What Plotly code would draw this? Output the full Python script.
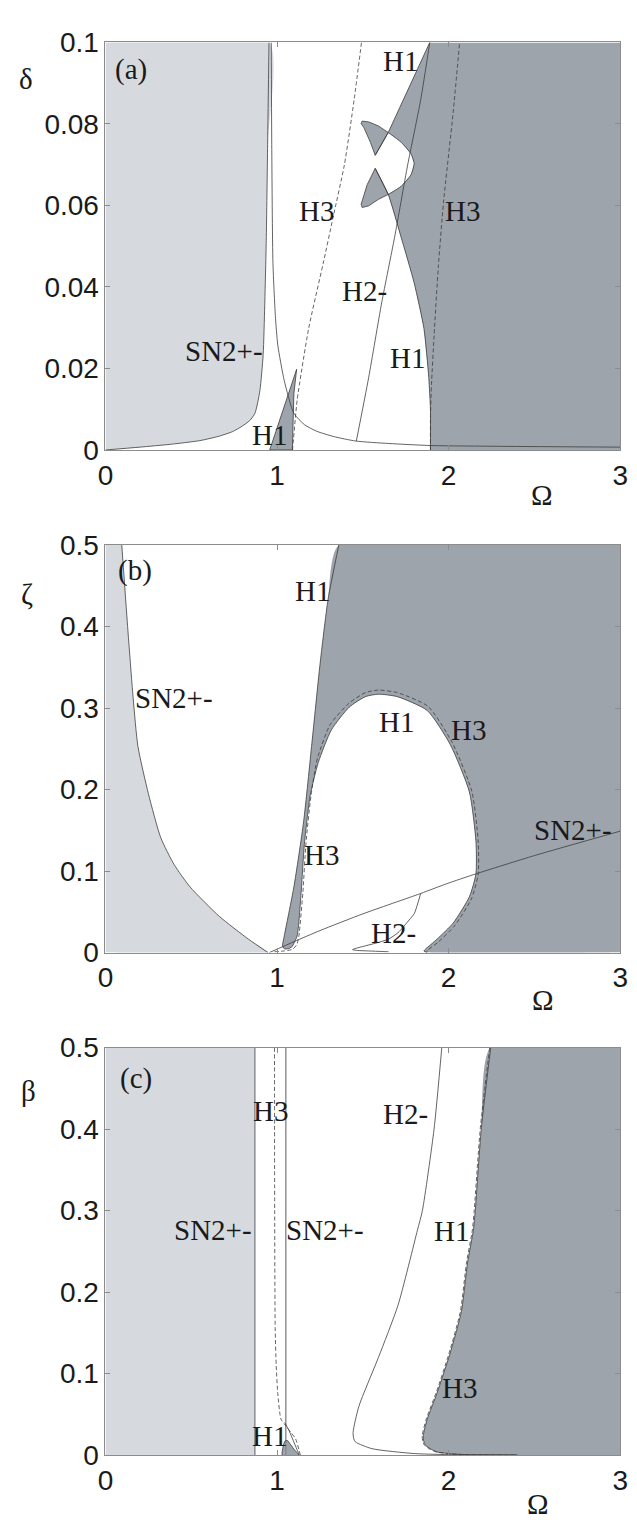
import plotly.graph_objects as go

# ---------------- Panel (a): Omega vs delta ----------------
a_sn_left_om = [0, 0.2, 0.38, 0.55, 0.663, 0.74, 0.795, 0.84, 0.871, 0.9, 0.919, 0.928, 0.937, 0.945, 0.953]
a_sn_left_de = [0, 0.0007, 0.0014, 0.0023, 0.0034, 0.0045, 0.0058, 0.0072, 0.009, 0.0146, 0.0234, 0.0354, 0.0514, 0.075, 0.1]
a_sn_right_om = [0.966, 0.969, 0.976, 0.99, 1.004, 1.042, 1.098, 1.16, 1.231, 1.33, 1.458, 1.65, 1.894, 2.3, 3.0]
a_sn_right_de = [0.1, 0.075, 0.0458, 0.033, 0.0258, 0.017, 0.009, 0.0062, 0.0046, 0.0033, 0.0022, 0.0016, 0.0011, 0.0009, 0.0007]
a_tri_om = [0.957, 1.114, 1.098, 1.089, 0.957]
a_tri_de = [0, 0.0198, 0.0138, 0, 0]
a_h3l_om = [1.09, 1.094, 1.117, 1.184, 1.269, 1.326, 1.392, 1.449, 1.492]
a_h3l_de = [0, 0.0018, 0.0122, 0.0298, 0.0458, 0.057, 0.0699, 0.0859, 0.1]
a_h2_om = [1.462, 1.534, 1.61, 1.685, 1.761, 1.837, 1.89]
a_h2_de = [0.0022, 0.0178, 0.0362, 0.0522, 0.0699, 0.0859, 0.1]
a_h1u_om = [1.89, 1.648, 1.572]
a_h1u_de = [0.1, 0.0779, 0.0723]
a_h1l_om = [1.572, 1.648, 1.723, 1.799, 1.856, 1.884, 1.894, 1.894]
a_h1l_de = [0.0691, 0.0627, 0.0522, 0.041, 0.0298, 0.0178, 0.0098, 0]
a_bowl_om = [1.648, 1.723, 1.78, 1.799, 1.78, 1.723, 1.648]
a_bowl_de = [0.0779, 0.0755, 0.0727, 0.0703, 0.0675, 0.0647, 0.0627]
a_lobeu_om = [1.648, 1.591, 1.534, 1.496, 1.49, 1.506, 1.544, 1.572, 1.648]
a_lobeu_de = [0.0779, 0.0795, 0.0805, 0.0807, 0.0801, 0.0791, 0.0755, 0.0723, 0.0779]
a_lobel_om = [1.572, 1.525, 1.496, 1.49, 1.496, 1.534, 1.591, 1.648, 1.572]
a_lobel_de = [0.0691, 0.0651, 0.0611, 0.0603, 0.0595, 0.0599, 0.0615, 0.0627, 0.0691]
a_h3r_om = [1.894, 1.894, 1.9, 1.915, 1.94, 1.97, 2.026, 2.064]
a_h3r_de = [0, 0.008, 0.016, 0.028, 0.045, 0.0607, 0.0827, 0.1]
a_ytick_vals = [0, 0.02, 0.04, 0.06, 0.08, 0.1]
a_ytick_text = ["0", "0.02", "0.04", "0.06", "0.08", "0.1"]
a_lab_text = ["(a)", "H1", "H3", "H3", "H2-", "H1", "SN2+-", "H1"]
a_lab_om = [0.148, 1.722, 1.227, 2.080, 1.511, 1.761, 0.693, 0.955]
a_lab_de = [0.0933, 0.0954, 0.0587, 0.0587, 0.0389, 0.0226, 0.0243, 0.0038]
a_axlab_text = ["δ", "Ω"]
a_axlab_om = [-0.466, 2.545]
a_axlab_de = [0.0911, -0.0111]

# ---------------- Panel (b): Omega vs zeta ----------------
b_sn_left_om = [0.095, 0.129, 0.161, 0.189, 0.25, 0.322, 0.4, 0.493, 0.663, 0.833, 0.947]
b_sn_left_ze = [0.5, 0.4, 0.313, 0.253, 0.195, 0.141, 0.108, 0.0805, 0.0445, 0.0165, 0]
b_sn_right_om = [0.955, 1.1, 1.25, 1.5, 1.837, 1.989, 2.159, 2.5, 3.0]
b_sn_right_ze = [0, 0.0135, 0.027, 0.0475, 0.0725, 0.0845, 0.0966, 0.119, 0.149]
b_h1o_om = [1.36, 1.297, 1.25, 1.203, 1.155, 1.098, 1.042, 1.032, 1.04, 1.051, 1.07, 1.089]
b_h1o_ze = [0.5, 0.433, 0.353, 0.257, 0.161, 0.0805, 0.0204, 0.0084, 0.005, 0.0044, 0.005, 0.0076]
b_loop_om = [1.089, 1.117, 1.14, 1.159, 1.193, 1.24, 1.316, 1.42, 1.515, 1.591, 1.70, 1.875, 2.01, 2.121, 2.159, 2.159, 2.121, 2.027, 1.932, 1.866, 1.856, 1.875]
b_loop_ze = [0.0076, 0.0204, 0.0725, 0.1326, 0.1927, 0.233, 0.273, 0.301, 0.314, 0.317, 0.314, 0.297, 0.255, 0.197, 0.1367, 0.0966, 0.0685, 0.0364, 0.0164, 0.0044, 0.002, 0]
b_h3_om = [0.985, 1.04, 1.09, 1.115, 1.127, 1.15, 1.168, 1.198, 1.235, 1.31, 1.42, 1.515, 1.591, 1.70, 1.88, 2.02, 2.135, 2.172, 2.172, 2.133, 2.035, 1.94, 1.878, 1.87]
b_h3_ze = [0.001, 0.002, 0.004, 0.01, 0.0204, 0.0725, 0.133, 0.193, 0.238, 0.28, 0.306, 0.319, 0.322, 0.319, 0.302, 0.258, 0.198, 0.137, 0.096, 0.066, 0.033, 0.013, 0.003, 0]
b_h2_om = [1.837, 1.80, 1.77, 1.705, 1.648, 1.572, 1.50, 1.459, 1.44, 1.47, 1.534, 1.65]
b_h2_ze = [0.0725, 0.048, 0.040, 0.0244, 0.0164, 0.0114, 0.0075, 0.0052, 0.0036, 0.0026, 0.002, 0.001]
b_ytick_vals = [0, 0.1, 0.2, 0.3, 0.4, 0.5]
b_ytick_text = ["0", "0.1", "0.2", "0.3", "0.4", "0.5"]
b_lab_text = ["(b)", "H1", "SN2+-", "H1", "H3", "H3", "SN2+-", "H2-"]
b_lab_om = [0.170, 1.205, 0.398, 1.699, 2.114, 1.261, 2.727, 1.676]
b_lab_ze = [0.469, 0.4435, 0.3125, 0.2825, 0.273, 0.120, 0.150, 0.024]
b_axlab_text = ["ζ", "Ω"]
b_axlab_om = [-0.455, 2.55]
b_axlab_ze = [0.440, -0.0577]

# ---------------- Panel (c): Omega vs beta ----------------
c_sn1_om = [0.871, 0.871]
c_sn1_be = [0, 0.5]
c_sn2_om = [1.051, 1.051]
c_sn2_be = [0, 0.5]
c_h3_om = [0.985, 0.986, 0.989, 0.995, 1.004, 1.023, 1.051, 1.08, 1.108, 1.136]
c_h3_be = [0.5, 0.3, 0.156, 0.11, 0.076, 0.044, 0.036, 0.028, 0.02, 0]
c_h1line_om = [1.045, 1.07, 1.1, 1.13]
c_h1line_be = [0.04, 0.03, 0.015, 0]
c_blob_om = [1.03, 1.035, 1.045, 1.06, 1.075, 1.1, 1.127, 1.03]
c_blob_be = [0, 0.01, 0.017, 0.018, 0.014, 0.007, 0, 0]
c_h2_om = [1.96, 1.915, 1.847, 1.818, 1.705, 1.591, 1.477, 1.443, 1.447, 1.458, 1.553, 1.799, 2.08, 2.4]
c_h2_be = [0.5, 0.4, 0.3, 0.276, 0.184, 0.12, 0.06, 0.028, 0.02, 0.016, 0.008, 0.002, 0.0005, 0.0003]
c_dark_om = [2.245, 2.19, 2.155, 2.144, 2.11, 2.074, 2.007, 1.932, 1.875, 1.852, 1.855, 1.866, 1.90, 1.932, 2.0, 2.083, 2.2, 2.4]
c_dark_be = [0.5, 0.4, 0.3, 0.276, 0.236, 0.176, 0.124, 0.076, 0.044, 0.024, 0.017, 0.012, 0.007, 0.004, 0.002, 0.0008, 0.0003, 0]
c_ytick_vals = [0, 0.1, 0.2, 0.3, 0.4, 0.5]
c_ytick_text = ["0", "0.1", "0.2", "0.3", "0.4", "0.5"]
c_lab_text = ["(c)", "H3", "H2-", "SN2+-", "SN2+-", "H1", "H3", "H1"]
c_lab_om = [0.176, 0.960, 1.75, 0.625, 1.278, 2.017, 2.063, 0.955]
c_lab_be = [0.4615, 0.422, 0.419, 0.276, 0.276, 0.275, 0.083, 0.024]
c_axlab_text = ["β", "Ω"]
c_axlab_om = [-0.449, 2.52]
c_axlab_be = [0.447, -0.060]

x_tick_vals = [0, 1, 2, 3]
x_tick_text = ["0", "1", "2", "3"]
X_RANGE = [0, 3]

LIGHT = "#d6dadf"
DARK = "#9ea4ac"
LINE = "#3c3c3c"
AXC = "#8c8c8c"
SERIF = "Liberation Serif, Times New Roman, serif"
SANS = "Liberation Sans, Arial, sans-serif"
FS_LAB = 29
FS_TICK = 28

fig = go.Figure()


def fill(xs, ys, color, ax, smooth=False):
    fig.add_trace(go.Scatter(x=xs, y=ys, mode="lines", fill="toself", fillcolor=color,
                             line=dict(width=0, color=color,
                                       shape="spline" if smooth else "linear",
                                       smoothing=0.6),
                             hoverinfo="skip", showlegend=False,
                             xaxis="x" + ax, yaxis="y" + ax))


def line(xs, ys, ax, dash="solid", width=0.8, color=LINE, smooth=False):
    fig.add_trace(go.Scatter(x=xs, y=ys, mode="lines",
                             line=dict(width=width, color=color, dash=dash,
                                       shape="spline" if smooth else "linear",
                                       smoothing=0.6),
                             hoverinfo="skip", showlegend=False,
                             xaxis="x" + ax, yaxis="y" + ax))

DASH = "4px,2.5px"

# ---- (a) ----
AY = a_ytick_vals[-1]
x0, x1 = X_RANGE
fill(a_sn_left_om + [x0, x0], a_sn_left_de + [AY, AY], LIGHT, "", smooth=True)
main_x = a_h1u_om[:2] + a_bowl_om[1:] + a_h1l_om[2:] + [x1, x1]
main_y = a_h1u_de[:2] + a_bowl_de[1:] + a_h1l_de[2:] + [0, AY]
fill(main_x, main_y, DARK, "")
fill(a_lobeu_om, a_lobeu_de, DARK, "")
fill(a_lobel_om, a_lobel_de, DARK, "")
fill(a_tri_om, a_tri_de, DARK, "")
line(a_sn_left_om, a_sn_left_de, "", smooth=True)
line(a_sn_right_om, a_sn_right_de, "", smooth=True)
line(a_tri_om, a_tri_de, "")
line(a_h1u_om, a_h1u_de, "")
line(a_h1l_om, a_h1l_de, "", smooth=True)
line(a_bowl_om, a_bowl_de, "", smooth=True)
line(a_lobeu_om, a_lobeu_de, "")
line(a_lobel_om, a_lobel_de, "")
line(a_h2_om, a_h2_de, "", smooth=True)
line(a_h3l_om, a_h3l_de, "", dash=DASH, smooth=True)
line(a_h3r_om, a_h3r_de, "", dash=DASH, smooth=True)

# ---- (b) ----
BY = b_ytick_vals[-1]
fill(b_sn_left_om + [x0, x0, x0, x0], b_sn_left_ze + [0, 0, BY, BY], LIGHT, "2", smooth=True)
fill(b_h1o_om + b_loop_om + [x1, x1, x1, x1, b_h1o_om[0]],
     b_h1o_ze + b_loop_ze + [0, 0, BY, BY, BY], DARK, "2", smooth=True)
line(b_sn_left_om, b_sn_left_ze, "2", smooth=True)
line(b_sn_right_om, b_sn_right_ze, "2", smooth=True)
line(b_h1o_om + b_loop_om, b_h1o_ze + b_loop_ze, "2", smooth=True)
line(b_h2_om, b_h2_ze, "2", smooth=True)
line(b_h3_om, b_h3_ze, "2", dash=DASH, smooth=True)

# ---- (c) ----
CY = c_ytick_vals[-1]
fill([x0] + c_sn1_om + [x0], [0] + c_sn1_be + [CY], LIGHT, "3")
fill(c_dark_om + [x1, x1, x1, x1, c_dark_om[0]], c_dark_be + [0, 0, CY, CY, CY], DARK, "3", smooth=True)
fill(c_blob_om, c_blob_be, DARK, "3", smooth=True)
line(c_sn1_om, c_sn1_be, "3")
line(c_sn2_om, c_sn2_be, "3", width=1.4, color="#8a8a8a")
line(c_blob_om, c_blob_be, "3", smooth=True)
line(c_h1line_om, c_h1line_be, "3", smooth=True)
line(c_h2_om, c_h2_be, "3", smooth=True)
line(c_dark_om, c_dark_be, "3", smooth=True)
line(c_h3_om, c_h3_be, "3", dash=DASH, smooth=True)
line([v - 0.006 for v in c_dark_om], c_dark_be, "3", dash=DASH, smooth=True)

# ---- annotations ----
annots = []
font_lab = dict(family=SERIF, size=FS_LAB, color="#1a1a1a")
for texts, xs, ys, ax in [(a_lab_text, a_lab_om, a_lab_de, ""),
                          (b_lab_text, b_lab_om, b_lab_ze, "2"),
                          (c_lab_text, c_lab_om, c_lab_be, "3")]:
    for t, x, y in zip(texts, xs, ys):
        annots.append(dict(text=t, x=x, y=y, xref="x" + ax, yref="y" + ax,
                           showarrow=False, xanchor="center", yanchor="middle",
                           font=font_lab))

# axis-name labels lie outside the plotting range -> place them in axis-domain units
for texts, xs, ys, ax, yr in [(a_axlab_text, a_axlab_om, a_axlab_de, "", [0, AY]),
                              (b_axlab_text, b_axlab_om, b_axlab_ze, "2", [0, BY]),
                              (c_axlab_text, c_axlab_om, c_axlab_be, "3", [0, CY])]:
    for t, x, y in zip(texts, xs, ys):
        annots.append(dict(text=t,
                           x=(x - X_RANGE[0]) / (X_RANGE[1] - X_RANGE[0]),
                           y=(y - yr[0]) / (yr[1] - yr[0]),
                           xref=("x" + ax) + " domain", yref=("y" + ax) + " domain",
                           showarrow=False, xanchor="center", yanchor="middle",
                           font=font_lab))

W, H = 637, 1528
xdom = [100 / W, 628 / W]


def ydom(top_px, bot_px):
    return [1 - bot_px / H, 1 - top_px / H]


axis_common = dict(showline=True, mirror="ticks", linecolor=AXC, linewidth=1,
                   ticks="inside", ticklen=5, tickcolor=AXC, tickwidth=1,
                   showgrid=False, zeroline=False,
                   tickfont=dict(family=SANS, size=FS_TICK, color="#1a1a1a"))

layout = dict(width=W, height=H, margin=dict(l=0, r=0, t=0, b=0),
              paper_bgcolor="white", plot_bgcolor="white", showlegend=False,
              annotations=annots)
for ax, (top, bot), yv, yt, yr in [("", (28, 444), a_ytick_vals, a_ytick_text, [0, AY]),
                                   ("2", (541, 957), b_ytick_vals, b_ytick_text, [0, BY]),
                                   ("3", (1054, 1470), c_ytick_vals, c_ytick_text, [0, CY])]:
    xa = dict(axis_common, domain=xdom, range=X_RANGE, tickvals=x_tick_vals,
              ticktext=x_tick_text, anchor="y" + ax)
    ya = dict(axis_common, domain=ydom(top, bot), range=yr, tickvals=yv,
              ticktext=yt, anchor="x" + ax, ticklabelstandoff=0)
    layout["xaxis" + ax] = xa
    layout["yaxis" + ax] = ya

fig.update_layout(**layout)
fig.write_html("out.html")
